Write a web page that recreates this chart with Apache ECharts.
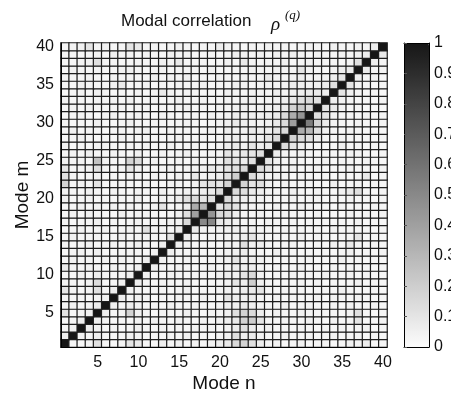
<!DOCTYPE html>
<html>
<head>
<meta charset="utf-8">
<script src="https://cdn.jsdelivr.net/npm/echarts@6/dist/echarts.min.js"></script>
<style>
html, body { margin: 0; padding: 0; background: #fff; }
#modalChart { width: 451px; height: 394px; }
</style>
</head>
<body>
<div id="modalChart"></div>
<script>
// mode numbers on both axes
var modeN = [];
var modeM = [];
for (var i = 1; i <= 40; i++) { modeN.push(String(i)); modeM.push(String(i)); }

// rho values in percent, one row per mode m (m = 1 .. 40), columns are mode n (n = 1 .. 40)
var rhoRows = [
	[100,3,2,4,12, 3,2,4,10,8, 3,2,6,3,5, 2,4,3,5,6, 8,15,18,12,6, 3,4,2,3,5, 2,3,4,2,3, 5,4,6,2,3],
	[6,100,4,2,5, 3,2,3,5,4, 2,3,2,4,3, 5,2,3,2,4, 5,12,6,8,4, 2,3,5,2,3, 4,2,3,5,2, 3,4,2,3,2],
	[3,5,100,6,3, 2,4,2,3,5, 3,2,4,2,3, 2,5,3,4,2, 4,6,12,7,3, 5,2,3,2,4, 3,2,5,2,4, 2,3,5,2,3],
	[2,3,6,100,5, 4,2,3,2,4, 2,5,3,2,4, 3,2,4,2,5, 6,8,18,20,10, 3,2,4,3,2, 5,3,2,4,2, 3,10,2,3,4],
	[10,2,4,5,100, 6,3,4,18,5, 3,2,4,3,2, 5,3,2,4,3, 5,12,18,15,6, 2,4,3,2,5, 3,2,4,3,2, 4,12,3,2,3],
	[3,4,2,3,6, 100,5,3,6,4, 2,3,2,5,3, 2,4,3,2,4, 6,5,8,6,4, 3,2,5,2,3, 4,3,2,3,2, 5,3,2,4,2],
	[4,2,3,2,4, 5,100,6,3,5, 4,2,3,2,4, 3,2,5,3,2, 10,6,5,7,3, 2,4,2,3,2, 3,5,2,4,3, 2,4,3,2,3],
	[10,3,2,4,12, 3,6,100,5,3, 2,4,3,2,3, 5,2,3,2,4, 5,4,6,8,10, 3,2,4,2,3, 2,3,4,2,5, 3,2,2,3,2],
	[4,3,2,5,14, 2,3,5,100,6, 3,2,4,3,2, 4,3,2,3,3, 4,10,6,20,5, 3,2,3,2,4, 2,4,2,3,2, 3,5,2,2,3],
	[3,2,5,2,6, 4,2,3,6,100, 5,3,2,4,3, 2,3,4,2,5, 6,5,10,15,4, 2,3,2,4,2, 3,2,5,2,3, 4,2,3,2,2],
	[8,3,2,4,3, 2,5,3,2,5, 100,6,3,2,4, 3,2,3,5,2, 4,6,5,7,3, 2,4,2,3,5, 2,3,2,4,2, 3,2,4,2,3],
	[3,4,2,3,2, 5,2,4,3,2, 6,100,5,3,2, 4,3,2,3,4, 5,10,4,6,5, 3,2,3,2,3, 4,2,3,2,5, 2,3,2,3,2],
	[2,3,4,2,5, 3,2,3,4,3, 2,5,100,6,3, 2,4,3,2,3, 4,5,6,4,3, 2,5,2,3,2, 3,2,4,2,3, 5,2,3,2,4],
	[4,2,3,5,2, 3,4,2,3,5, 3,2,6,100,5, 3,2,4,3,2, 5,4,12,5,6, 3,2,3,4,2, 2,3,2,5,2, 8,3,2,3,2],
	[3,5,2,3,4, 2,3,5,2,3, 4,3,2,10,100, 6,3,2,4,3, 4,5,6,10,4, 2,3,2,3,5, 2,4,3,2,3, 3,10,2,4,2],
	[2,3,4,2,3, 5,2,3,4,2, 12,3,4,2,6, 100,8,5,3,4, 5,6,4,5,3, 3,2,4,2,3, 2,3,2,4,2, 3,2,3,2,3],
	[4,2,3,3,5, 2,4,2,3,4, 3,2,3,5,4, 15,100,50,50,8, 6,5,3,4,2, 4,3,2,3,2, 3,2,4,2,3, 2,4,2,3,2],
	[3,4,2,5,2, 3,2,5,2,3, 4,3,2,3,5, 12,40,100,45,15, 12,6,4,3,5, 2,3,4,2,3, 2,4,2,3,2, 5,2,3,2,4],
	[2,3,5,2,4, 3,5,2,4,2, 3,4,10,2,3, 6,35,30,100,10, 15,10,5,4,3, 2,4,2,3,5, 3,2,3,2,4, 2,3,2,4,2],
	[5,2,3,4,2, 4,2,3,2,5, 2,3,4,3,6, 12,15,10,12,100, 15,8,6,5,4, 3,2,3,4,2, 3,4,2,3,2, 4,2,3,2,3],
	[4,3,2,5,3, 2,4,3,2,4, 3,2,5,2,3, 5,4,6,8,15, 100,15,12,8,6, 4,3,2,5,3, 2,4,3,2,5, 8,12,3,2,3],
	[18,3,4,2,10, 3,2,4,3,2, 4,3,2,4,3, 2,5,10,12,10, 18,100,18,10,12, 5,3,4,2,3, 4,2,3,5,2, 3,4,2,3,2],
	[12,4,2,3,5, 2,3,2,4,3, 2,4,3,2,5, 3,8,4,5,6, 12,20,100,14,8, 4,5,3,2,4, 3,2,4,2,3, 2,3,8,2,3],
	[10,2,3,4,12, 3,2,4,10,5, 3,2,3,5,2, 4,3,5,8,6, 10,12,15,100,15, 10,4,3,5,2, 3,4,2,3,2, 4,2,3,2,4],
	[5,3,4,2,25, 4,3,2,18,14, 3,5,2,3,4, 2,4,3,2,5, 12,10,6,12,100, 10,5,3,4,3, 2,3,5,2,4, 3,2,4,3,2],
	[3,4,2,5,3, 2,4,3,2,5, 2,3,4,2,3, 5,2,3,4,3, 10,6,8,10,12, 100,6,4,3,5, 3,2,4,3,2, 4,3,2,2,3],
	[4,2,3,2,4, 5,3,2,4,3, 4,2,3,5,2, 3,4,2,3,4, 6,8,5,10,6, 8,100,14,10,6, 4,3,2,3,5, 2,3,2,4,2],
	[2,3,5,3,2, 4,2,5,3,2, 3,4,2,3,5, 2,3,4,2,3, 5,6,4,6,5, 10,15,100,18,15, 12,6,3,2,4, 3,2,3,2,3],
	[3,5,2,4,3, 2,3,4,2,4, 5,3,2,4,2, 3,2,3,5,2, 6,4,5,8,6, 6,10,15,100,35, 30,12,5,3,2, 4,3,2,3,2],
	[4,2,3,2,5, 3,2,3,5,2, 2,4,3,2,3, 4,3,2,3,4, 5,8,6,5,4, 5,8,15,40,100, 55,18,8,4,3, 2,4,3,2,3],
	[2,3,4,3,2, 4,5,2,3,4, 3,2,4,3,2, 3,4,2,5,3, 4,6,5,6,5, 6,6,15,35,45, 100,12,10,5,3, 3,2,4,2,3],
	[3,4,2,5,3, 2,3,4,2,3, 4,2,3,2,4, 5,2,3,2,4, 3,5,6,4,5, 5,6,8,18,22, 15,100,10,8,4, 2,3,2,3,2],
	[5,2,3,2,4, 3,4,2,5,2, 3,4,2,3,5, 2,3,4,2,3, 4,3,5,6,3, 4,5,6,8,12, 15,12,100,6,4, 3,2,3,2,4],
	[2,3,4,2,5, 4,2,3,2,4, 2,3,8,4,2, 3,4,2,3,2, 5,4,3,5,4, 3,6,4,5,6, 8,8,6,100,10, 5,3,2,3,2],
	[3,2,5,3,2, 3,5,8,2,3, 4,2,3,2,4, 2,3,5,2,3, 3,5,4,3,4, 5,3,4,6,5, 4,5,6,12,100, 10,4,3,2,3],
	[4,3,2,4,3, 2,4,3,3,2, 3,5,2,4,3, 5,2,3,2,4, 4,3,5,4,3, 8,4,3,4,6, 3,4,5,6,10, 100,6,3,4,2],
	[2,4,3,2,4, 3,2,4,5,3, 2,3,4,2,3, 3,4,2,5,2, 3,4,3,5,4, 3,5,4,3,10, 4,3,2,4,6, 8,100,8,3,4],
	[3,2,4,5,12, 4,3,2,3,4, 3,2,5,3,8, 2,3,4,2,3, 5,3,8,4,3, 4,3,5,2,3, 5,2,4,3,2, 4,12,100,6,3],
	[4,3,2,3,4, 2,5,3,4,2, 4,3,2,5,3, 4,2,3,4,2, 3,5,4,3,5, 2,4,3,5,3, 2,4,3,2,4, 3,5,6,100,8],
	[3,4,5,10,3, 5,2,3,10,8, 3,4,2,3,5, 3,2,4,3,6, 4,3,2,4,3, 5,3,4,2,3, 4,3,2,5,3, 2,4,3,6,100]
];

// colorbar tick labels
var cbarTicks = ['0', '0.1', '0.2', '0.3', '0.4', '0.5', '0.6', '0.7', '0.8', '0.9', '1'];

var font = '"Liberation Sans", Arial, sans-serif';

function buildHeatData() {
	var data = [];
	for (var m = 0; m < rhoRows.length; m++) {
		for (var n = 0; n < rhoRows[m].length; n++) {
			data.push([n, m, rhoRows[m][n] / 100]);
		}
	}
	return data;
}

var myChart = echarts.init(document.getElementById('modalChart'));

var option = {
	backgroundColor: '#fff',
	animation: false,
	textStyle: { fontFamily: font },
	graphic: [
		{ type: 'text', left: 121, top: 13, style: { text: 'Modal correlation', font: '17px ' + font, fill: '#111' } },
		{ type: 'text', left: 271, top: 15, style: { text: 'ρ', font: 'italic 19px "Liberation Serif", serif', fill: '#111' } },
		{ type: 'text', left: 285, top: 9, style: { text: '(q)', font: 'italic 13px "Liberation Serif", serif', fill: '#111' } }
	],
	grid: [
		{ left: 61, top: 43, width: 326, height: 304, outerBoundsMode: 'none', containLabel: false },
		{ left: 404, top: 43, width: 25, height: 304, outerBoundsMode: 'none', containLabel: false }
	],
	xAxis: [
		{
			type: 'category', gridIndex: 0, data: modeN, z: 5,
			name: 'Mode n', nameLocation: 'middle', nameGap: 27, nameMoveOverlap: false,
			nameTextStyle: { fontSize: 19, color: '#111', fontFamily: font },
			axisLine: { show: true, lineStyle: { color: '#000', width: 1 } },
			axisTick: { show: false },
			axisLabel: {
				fontSize: 16, color: '#111', margin: 8,
				interval: function (idx) { return (idx + 1) % 5 === 0; }
			},
			splitLine: { show: false }
		},
		{
			type: 'value', gridIndex: 1, min: 0, max: 1, z: 5,
			axisLine: { show: true, onZero: false, lineStyle: { color: '#000' } },
			axisTick: { show: false }, axisLabel: { show: false }, splitLine: { show: false }
		},
		{
			type: 'value', gridIndex: 1, min: 0, max: 1, position: 'top', z: 5,
			axisLine: { show: true, onZero: false, lineStyle: { color: '#000' } },
			axisTick: { show: false }, axisLabel: { show: false }, splitLine: { show: false }
		}
	],
	yAxis: [
		{
			type: 'category', gridIndex: 0, data: modeM, z: 5,
			name: 'Mode m', nameLocation: 'middle', nameGap: 29, nameRotate: 90, nameMoveOverlap: false,
			nameTextStyle: { fontSize: 19, color: '#111', fontFamily: font },
			axisLine: { show: true, lineStyle: { color: '#000', width: 1 } },
			axisTick: { show: false },
			axisLabel: {
				fontSize: 16, color: '#111', margin: 7,
				interval: function (idx) { return (idx + 1) % 5 === 0; }
			},
			splitLine: { show: false }
		},
		{
			type: 'value', gridIndex: 1, min: 0, max: 1, interval: 0.1, position: 'right', z: 5,
			axisLine: { show: true, onZero: false, lineStyle: { color: '#000' } },
			axisTick: { show: false },
			axisLabel: {
				fontSize: 16, color: '#111', margin: 5,
				formatter: function (v) { return cbarTicks[Math.round(v * 10)]; }
			},
			splitLine: { show: false }
		},
		{
			type: 'value', gridIndex: 1, min: 0, max: 1, interval: 0.1, position: 'left', z: 5,
			axisLine: { show: true, onZero: false, lineStyle: { color: '#000' } },
			axisTick: { show: true, inside: true, length: 3, lineStyle: { color: '#555' } },
			axisLabel: { show: false },
			splitLine: { show: false }
		}
	],
	visualMap: {
		type: 'continuous', min: 0, max: 1, seriesIndex: 0,
		orient: 'vertical', left: 404, top: 43, padding: 0,
		itemWidth: 25, itemHeight: 304,
		calculable: false, text: null, showLabel: false, hoverLink: false,
		inRange: { color: ['#fcfcfc', '#161616'] }
	},
	series: [
		{
			type: 'heatmap', xAxisIndex: 0, yAxisIndex: 0,
			data: buildHeatData(),
			itemStyle: { borderColor: '#1e1e1e', borderWidth: 1.2 },
			emphasis: { disabled: true }
		}
	]
};
myChart.setOption(option, true);
</script>
</body>
</html>
